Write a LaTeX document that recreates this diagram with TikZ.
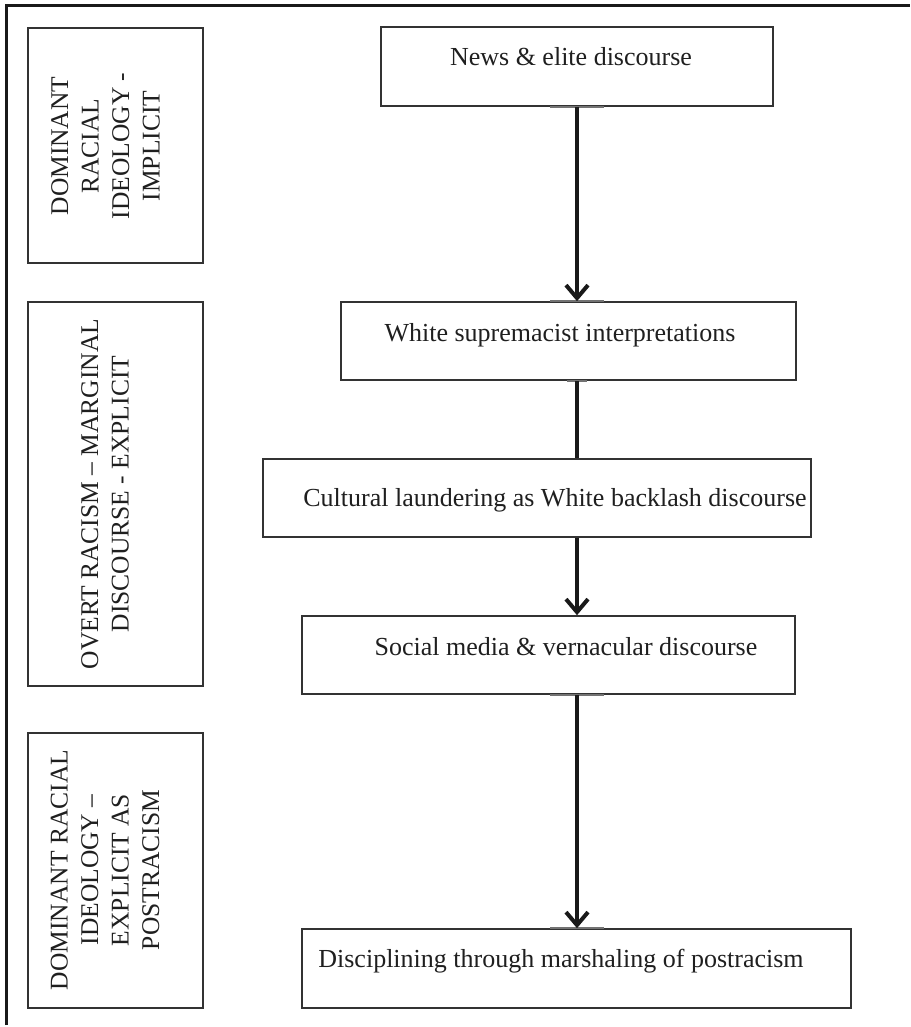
\documentclass[tikz,border=0pt]{standalone}
\usepackage{fontspec}
\setmainfont{Liberation Serif}
\usetikzlibrary{arrows.meta}
\begin{document}
\begin{tikzpicture}[x=1pt,y=-1pt,
  box/.style={draw=black!80, line width=1.6pt, rectangle, inner sep=0pt},
  lbl/.style={font=\fontsize{26}{30}\selectfont, anchor=base, inner sep=0pt, text=black!88},
  side/.style={font=\fontsize{25.5}{30.5}\selectfont, rotate=90, align=center, inner sep=0pt, text=black!88},
  flow/.style={line width=4pt, draw=black!90},
  arr/.style={flow, -{Straight Barb[length=13pt, width=22pt]}},
  tick/.style={line width=2.4pt, draw=black!55},
  frame/.style={line width=3pt, draw=black!90}
]
\useasboundingbox (0,0) rectangle (910,1027);
% outer frame (only top and left edges visible)
\coordinate (fbl) at (6,1025);
\coordinate (ftl) at (6,6);
\coordinate (ftr) at (910,6);
\draw[frame] (fbl) -- (ftl) -- (ftr);

% left side boxes
\node[box, minimum width=175pt, minimum height=235pt] (L1) at (115.5,145.5) {};
\node[box, minimum width=175pt, minimum height=384pt] (L2) at (115.5,494) {};
\node[box, minimum width=175pt, minimum height=275pt] (L3) at (115.5,870.5) {};
\node[side] (s1) at (105.5,146) {DOMINANT\\RACIAL\\IDEOLOGY -\\IMPLICIT};
\node[side] (s2) at (105,494) {OVERT RACISM -- MARGINAL\\DISCOURSE - EXPLICIT};
\node[side] (s3) at (105,870) {DOMINANT RACIAL\\IDEOLOGY --\\EXPLICIT AS\\POSTRACISM};

% flow boxes
\node[box, minimum width=392pt, minimum height=79pt] (n1) at (577,66.5) {};
\node[box, minimum width=455pt, minimum height=78pt] (n2) at (568.5,341) {};
\node[box, minimum width=548pt, minimum height=78pt] (n3) at (537,498) {};
\node[box, minimum width=493pt, minimum height=78pt] (n4) at (548.5,655) {};
\node[box, minimum width=549pt, minimum height=79pt] (n5) at (576.5,968.5) {};

\node[lbl] (t1) at (571,66) {News \& elite discourse};
\node[lbl] (t2) at (560,341) {White supremacist interpretations};
\node[lbl] (t3) at (555,506) {Cultural laundering as White backlash discourse};
\node[lbl] (t4) at (566,655) {Social media \& vernacular discourse};
\node[lbl] (t5) at (561,967) {Disciplining through marshaling of postracism};

% attachment ticks
\draw[tick] ([xshift=-27pt]n1.south) -- ([xshift=27pt]n1.south);
\draw[tick] ([xshift=-27pt]n2.north -| n1.south) -- ([xshift=27pt]n2.north -| n1.south);
\draw[tick] ([xshift=-10pt]n2.south -| n1.south) -- ([xshift=10pt]n2.south -| n1.south);
\draw[tick] ([xshift=-27pt]n4.south -| n1.south) -- ([xshift=27pt]n4.south -| n1.south);
\draw[tick] ([xshift=-27pt]n5.north -| n1.south) -- ([xshift=27pt]n5.north -| n1.south);

% connectors
\draw[arr] (n1.south) -- (n2.north -| n1.south);
\draw[flow] (n2.south -| n1.south) -- (n3.north -| n1.south);
\draw[arr] (n3.south -| n1.south) -- (n4.north -| n1.south);
\draw[arr] (n4.south -| n1.south) -- (n5.north -| n1.south);
\end{tikzpicture}
\end{document}
